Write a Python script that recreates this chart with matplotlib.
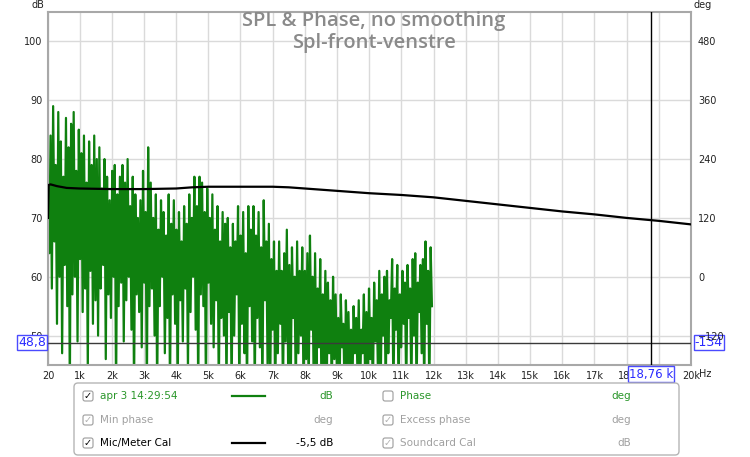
import numpy as np
import matplotlib.pyplot as plt
from matplotlib.patches import FancyBboxPatch
from matplotlib.transforms import blended_transform_factory

# SPL trace (dB): alternating peak / dip values, 20 Hz .. 11.95 kHz
spl_peaks = [76, 84, 89, 79, 88, 83, 77, 87, 82, 86,
             88, 78, 85, 81, 84, 76, 83, 79, 84, 80,
             82, 75, 80, 77, 73, 78, 79, 74, 77, 79,
             76, 80, 72, 77, 74, 70, 73, 78, 71, 82,
             76, 70, 74, 68, 73, 71, 67, 74, 69, 73,
             68, 71, 66, 72, 69, 74, 70, 77, 72, 77,
             76, 71, 75, 70, 74, 68, 72, 66, 71, 69,
             70, 65, 69, 66, 72, 67, 71, 64, 72, 68,
             72, 67, 71, 65, 73, 66, 69, 63, 66, 61,
             66, 61, 64, 68, 62, 65, 60, 66, 61, 65,
             61, 64, 67, 60, 64, 58, 63, 57, 61, 59,
             56, 60, 57, 53, 57, 52, 56, 54, 51, 55,
             53, 56, 51, 57, 54, 58, 53, 59, 56, 61,
             57, 60, 61, 56, 63, 58, 62, 57, 61, 59,
             62, 58, 63, 64, 59, 62, 63, 66, 61, 65]
spl_dips = [64, 58, 66, 52, 60, 47, 62, 55, 40, 57,
            60, 49, 63, 54, 58, 44, 61, 52, 56, 50,
            58, 62, 46, 57, 53, 60, 40, 55, 59, 49,
            56, 60, 51, 40, 57, 54, 48, 59, 40, 55,
            58, 50, 40, 55, 60, 47, 53, 40, 57, 52,
            40, 56, 49, 58, 44, 54, 60, 51, 40, 57,
            55, 40, 59, 52, 48, 56, 40, 53, 50, 40,
            54, 40, 50, 57, 40, 52, 47, 40, 55, 49,
            40, 53, 48, 40, 56, 45, 40, 51, 40, 47,
            52, 40, 49, 45, 40, 53, 40, 47, 50, 40,
            46, 40, 51, 40, 44, 48, 40, 45, 40, 47,
            40, 46, 43, 40, 48, 40, 45, 42, 40, 47,
            44, 40, 47, 42, 40, 46, 40, 49, 43, 40,
            50, 40, 47, 53, 40, 51, 40, 48, 52, 40,
            53, 40, 50, 40, 54, 47, 40, 52, 40, 55]
spl_start_khz, spl_end_khz = 0.02, 11.95

# Mic/Meter calibration curve
cal_khz = [0.02, 0.04, 0.1, 0.3, 0.6, 1, 2, 3, 4, 4.5, 5, 6, 7, 7.5, 8, 9, 10,
           11, 12, 13, 14, 15, 16, 17, 18, 19, 20]
cal_db = [70, 75.6, 75.7, 75.4, 75.1, 75.0, 74.9, 74.9, 75.0, 75.2, 75.3, 75.3,
          75.3, 75.2, 75.0, 74.6, 74.2, 73.9, 73.5, 72.9, 72.3, 71.7, 71.1,
          70.6, 70.0, 69.5, 68.9]

cursor_db, cursor_deg, cursor_khz = 48.8, -134, 18.76

xtick_khz = [0.02] + list(range(1, 21))
xtick_labels = ["20"] + [f"{k}k" for k in range(1, 21)]
db_ticks = [50, 60, 70, 80, 90, 100]
deg_ticks = [-120, 0, 120, 240, 360, 480]

green = "#0f800f"
blue = "#2a2aff"

spl = np.column_stack([spl_peaks, spl_dips]).ravel()
freq = np.linspace(spl_start_khz, spl_end_khz, len(spl))

fig = plt.figure(figsize=(7.5, 4.57), dpi=100)
ax = fig.add_axes([48 / 750, 1 - 365 / 457, 643 / 750, 353 / 457])
ax.set_xlim(0.02, 20)
ax.set_ylim(45, 105)
ax.set_xticks(xtick_khz)
ax.set_xticklabels(xtick_labels)
ax.set_yticks(db_ticks)
ax.grid(color="#dadada", lw=1)
ax.tick_params(length=0, labelsize=7, pad=4, colors="#222222")
for s in ax.spines.values():
    s.set_color("#a8a8a8")
    s.set_linewidth(1.5)

ax2 = ax.twinx()
ax2.set_ylim(-180, 540)
ax2.set_yticks(deg_ticks)
ax2.tick_params(length=0, labelsize=7, pad=5, colors="#222222")
for s in ax2.spines.values():
    s.set_visible(False)

ax.plot(freq, spl, color=green, lw=1.6, zorder=2)
ax.plot(cal_khz, cal_db, color="black", lw=1.6, zorder=3)
ax.axhline(cursor_db, color="#3a3a3a", lw=1, zorder=4)
ax.axvline(cursor_khz, color="black", lw=1, zorder=4)

# cursor readouts
box = dict(boxstyle="square,pad=0.1", fc="white", ec="#4a4aff", lw=1)
tr = blended_transform_factory(ax.transAxes, ax.transData)
ax.text(-0.003, cursor_db, f"{cursor_db}".replace(".", ","), transform=tr,
        ha="right", va="center", color=blue, fontsize=9, bbox=box,
        clip_on=False, zorder=10)
ax.text(1.006, cursor_db, f"{cursor_deg}", transform=tr, ha="left",
        va="center", color=blue, fontsize=9, bbox=box, clip_on=False, zorder=10)
trx = blended_transform_factory(ax.transData, ax.transAxes)
ax.text(cursor_khz, -0.026, f"{cursor_khz}".replace(".", ",") + " k",
        transform=trx, ha="center", va="center", color=blue, fontsize=8.5,
        bbox=box, clip_on=False, zorder=10)

# overlay in pixel coordinates for titles and the legend panel
ov = fig.add_axes([0, 0, 1, 1])
ov.set_xlim(0, 750)
ov.set_ylim(457, 0)
ov.axis("off")
ov.patch.set_alpha(0)

title_font = dict(ha="center", va="center", fontsize=14.5, color="#8a8a8a",
                  fontweight="semibold", family=["Open Sans", "DejaVu Sans"])
ov.text(374, 21, "SPL & Phase, no smoothing", **title_font)
ov.text(374, 43, "Spl-front-venstre", **title_font)
ov.text(38, 5, "dB", ha="center", va="center", fontsize=7, color="#222222")
ov.text(703, 5, "deg", ha="center", va="center", fontsize=7, color="#222222")
ov.text(699, 374, "Hz", ha="left", va="center", fontsize=7, color="#222222")

ov.add_patch(FancyBboxPatch((74, 383), 605, 72,
                            boxstyle="round,pad=0,rounding_size=4",
                            fc="white", ec="#b5b5b5", lw=1))

rows_y = [396, 420, 443]
left_names = ["apr 3 14:29:54", "Min phase", "Mic/Meter Cal"]
left_units = ["dB", "deg", "-5,5 dB"]
left_colors = ["#2a962a", "#a0a0a0", "black"]
left_lines = [green, None, "black"]
left_checks = ["black", "#b0b0b0", "black"]
right_names = ["Phase", "Excess phase", "Soundcard Cal"]
right_units = ["deg", "deg", "dB"]
right_colors = ["#2a962a", "#a0a0a0", "#a0a0a0"]
right_checks = [None, "#b0b0b0", "#b0b0b0"]


def checkbox(x, y, mark):
    ov.add_patch(FancyBboxPatch((x - 5, y - 5), 10, 10,
                                boxstyle="round,pad=0,rounding_size=2",
                                fc="white", ec="#9c9c9c", lw=0.8))
    if mark:
        ov.text(x, y, "\u2713", ha="center", va="center", fontsize=7, color=mark)


for i, y in enumerate(rows_y):
    checkbox(88, y, left_checks[i])
    ov.text(100, y, left_names[i], ha="left", va="center", fontsize=7.5,
            color=left_colors[i])
    if left_lines[i]:
        ov.plot([232, 265], [y, y], color=left_lines[i], lw=1.6)
    ov.text(333, y, left_units[i], ha="right", va="center", fontsize=7.5,
            color=left_colors[i])
    checkbox(388, y, right_checks[i])
    ov.text(400, y, right_names[i], ha="left", va="center", fontsize=7.5,
            color=right_colors[i])
    ov.text(631, y, right_units[i], ha="right", va="center", fontsize=7.5,
            color=right_colors[i])

fig.savefig("out.png", dpi=100)
